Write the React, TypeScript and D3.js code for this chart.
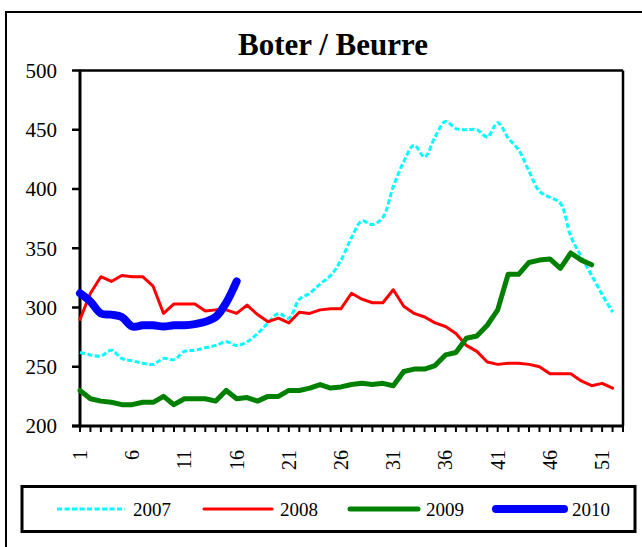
import React from "react";
import * as d3 from "d3";

const title = "Boter / Beurre";
const yTicks = [200, 250, 300, 350, 400, 450, 500];
const xLabels = [1, 6, 11, 16, 21, 26, 31, 36, 41, 46, 51];
const weeks = d3.range(1, 54);

const s2007 = [262, 260, 259, 264, 257, 255, 253, 252, 257, 256, 263, 264, 266, 268, 271, 268, 271, 278, 287, 295, 291, 307, 312, 320, 327, 340, 359, 373, 370, 376, 402, 423, 437, 427, 444, 457, 451, 450, 450, 444, 456, 443, 433, 415, 398, 393, 388, 360, 343, 327, 311, 296];
const s2008 = [290, 312, 326, 322, 327, 326, 326, 318, 295, 303, 303, 303, 297, 298, 298, 295, 302, 294, 288, 291, 287, 296, 295, 298, 299, 299, 312, 307, 304, 304, 315, 301, 295, 292, 287, 284, 278, 268, 263, 254, 252, 253, 253, 252, 250, 244, 244, 244, 238, 234, 236, 232];
const s2009 = [230, 223, 221, 220, 218, 218, 220, 220, 225, 218, 223, 223, 223, 221, 230, 223, 224, 221, 225, 225, 230, 230, 232, 235, 232, 233, 235, 236, 235, 236, 234, 246, 248, 248, 251, 260, 262, 274, 276, 285, 298, 328, 328, 338, 340, 341, 333, 346, 340, 336];
const s2010 = [312, 305, 295, 294, 292, 284, 285, 285, 284, 285, 285, 286, 288, 292, 304, 322];

const seriesNames = ["2007", "2008", "2009", "2010"];

const X0 = 80, X1 = 623, Y0 = 426, Y1 = 70.5;
const font = "'Liberation Serif', 'Times New Roman', serif";

export default function App() {
  const x = d3.scaleLinear().domain([1, 53]).range([X0, X1]);
  const y = d3.scaleLinear().domain([200, 500]).range([Y0, Y1]);
  const mk = (curve: any) =>
    d3.line<number>().x((_, i) => x(i + 1)).y((v) => y(v)).curve(curve);

  const styles = [
    { data: s2007, color: "#00FFFF", width: 3, dash: "5,2.5", curve: d3.curveCatmullRom, cap: "butt" },
    { data: s2008, color: "#FF0000", width: 3, dash: undefined, curve: d3.curveLinear, cap: "round" },
    { data: s2009, color: "#008000", width: 5, dash: undefined, curve: d3.curveLinear, cap: "round" },
    { data: s2010, color: "#0000FF", width: 8, dash: undefined, curve: d3.curveCatmullRom, cap: "round" },
  ];

  const legendX = [57, 204, 350, 496];
  const legendLen = 68;
  const legendY = 509;

  return (
    <svg width={642} height={547} style={{ position: "absolute", left: 0, top: 0, background: "#fff" }}>
      <rect x={6} y={12} width={660} height={560} fill="#fff" stroke="#000" strokeWidth={2} />
      <text x={333} y={55} textAnchor="middle" fontFamily={font} fontWeight="bold" fontSize={31}>
        {title}
      </text>
      {/* plot frame */}
      <line x1={X0} x2={X1} y1={Y1} y2={Y1} stroke="#000" strokeWidth={2.5} />
      <line x1={X1} x2={X1} y1={Y1} y2={Y0} stroke="#000" strokeWidth={2.5} />
      {/* y axis */}
      <line x1={X0} x2={X0} y1={Y1 - 1} y2={Y0 + 1.5} stroke="#000" strokeWidth={3} />
      {yTicks.map((t) => (
        <g key={t}>
          <line x1={X0 - 8} x2={X0} y1={y(t)} y2={y(t)} stroke="#000" strokeWidth={2.5} />
          <text x={57} y={y(t)} dy="0.35em" textAnchor="end" fontFamily={font} fontSize={21}>
            {t}
          </text>
        </g>
      ))}
      {/* x axis */}
      <line x1={X0 - 8} x2={X1 + 1} y1={Y0} y2={Y0} stroke="#000" strokeWidth={3} />
      {weeks.map((w) => (
        <line key={w} x1={x(w)} x2={x(w)} y1={Y0} y2={Y0 + 6} stroke="#000" strokeWidth={2} />
      ))}
      {xLabels.map((w) => (
        <text
          key={w}
          transform={`translate(${x(w)},${450}) rotate(-90)`}
          dy="0.35em"
          textAnchor="end"
          fontFamily={font}
          fontSize={20}
        >
          {w}
        </text>
      ))}
      {/* series */}
      {styles.map((s, i) => (
        <path
          key={i}
          d={mk(s.curve)(s.data) || ""}
          fill="none"
          stroke={s.color}
          strokeWidth={s.width}
          strokeDasharray={s.dash}
          strokeLinecap={s.cap as any}
          strokeLinejoin="round"
        />
      ))}
      {/* legend */}
      <rect x={22} y={486.5} width={613} height={45} fill="none" stroke="#000" strokeWidth={3} />
      {styles.map((s, i) => (
        <g key={i}>
          <line
            x1={legendX[i]}
            x2={legendX[i] + legendLen}
            y1={legendY}
            y2={legendY}
            stroke={s.color}
            strokeWidth={s.width}
            strokeDasharray={s.dash}
            strokeLinecap={s.cap as any}
          />
          <text x={legendX[i] + legendLen + 8} y={legendY} dy="0.35em" fontFamily={font} fontSize={19}>
            {seriesNames[i]}
          </text>
        </g>
      ))}
    </svg>
  );
}
